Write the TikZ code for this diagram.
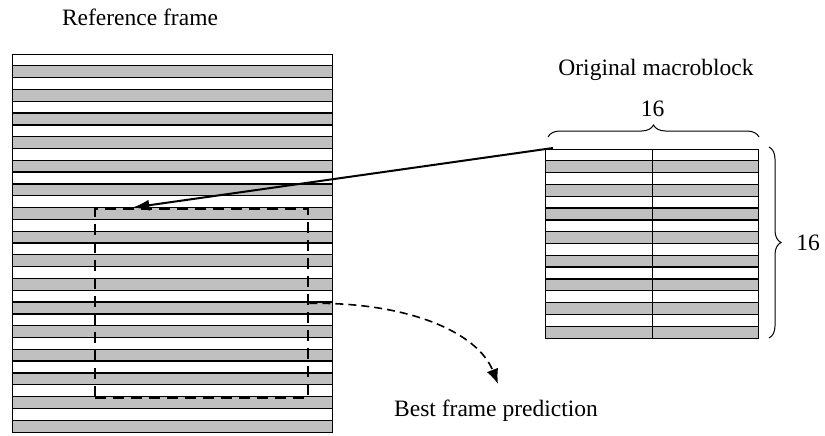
\documentclass[tikz,border=0pt]{standalone}
\usepackage{fontspec}
\setmainfont{Liberation Serif}
\usetikzlibrary{decorations.pathreplacing,arrows.meta,calc}
\definecolor{stripegray}{RGB}{192,192,192}
\begin{document}
\begin{tikzpicture}[x=1pt,y=-1pt,
  font=\fontsize{23.5}{28}\selectfont,
  stripeline/.style={line width=1.3pt},
  boxframe/.style={draw, line width=1.3pt, inner sep=0pt, anchor=north west},
  predbox/.style={draw, line width=2.4pt, dash pattern=on 11pt off 7pt, inner sep=0pt, anchor=north west},
  bracedeco/.style={decorate, decoration={brace, amplitude=12pt}, line width=1pt},
  label/.style={anchor=base, inner sep=0pt}]
\useasboundingbox (0,0) rectangle (825,436);
\def\sh{11.8125}
% reference frame stripes
\foreach \i in {1,3,...,31}
  \fill[stripegray] (12,{54+\i*\sh}) rectangle (332,{54+(\i+1)*\sh});
\foreach \i in {1,...,31}
  \draw[stripeline] (12,{54+\i*\sh}) -- (332,{54+\i*\sh});
\node[boxframe, minimum width=320pt, minimum height=378pt] (ref) at (12,54) {};
% macroblock stripes
\foreach \i in {1,3,...,15}
  \fill[stripegray] (545,{149+\i*\sh}) rectangle (758,{149+(\i+1)*\sh});
\foreach \i in {1,...,15}
  \draw[stripeline] (545,{149+\i*\sh}) -- (758,{149+\i*\sh});
\node[boxframe, minimum width=213pt, minimum height=189pt] (mb) at (545,149) {};
\draw[stripeline] (mb.north) -- (mb.south);
% best prediction dashed box
\node[predbox, minimum width=213pt, minimum height=189pt] (pred) at (94,207.6) {};
% arrows
\coordinate (tip) at ($(pred.north west)!0.178!(pred.north east)$);
\draw[line width=2pt, -{Latex[length=17pt,width=11pt]}] ($(mb.north west)+(8,-1)$) -- (tip);
\coordinate (predtip) at (498,384);
\draw[line width=1.6pt, dash pattern=on 8pt off 5pt, -{Latex[length=15pt,width=12pt]}]
  (pred.east) .. controls (410,302) and (478,333) .. (predtip);
% braces
\draw[bracedeco] (548,137) -- (759,137);
\draw[bracedeco] (769,147) -- (769,338);
% labels
\node[label] (reflabel) at (140,26) {Reference frame};
\node[label] (mblabel) at (656,76) {Original macroblock};
\node[label] (wlabel) at (652.5,116) {16};
\node[label] (hlabel) at (808,250) {16};
\node[label] (predlabel) at (496,416) {Best frame prediction};
\end{tikzpicture}
\end{document}
